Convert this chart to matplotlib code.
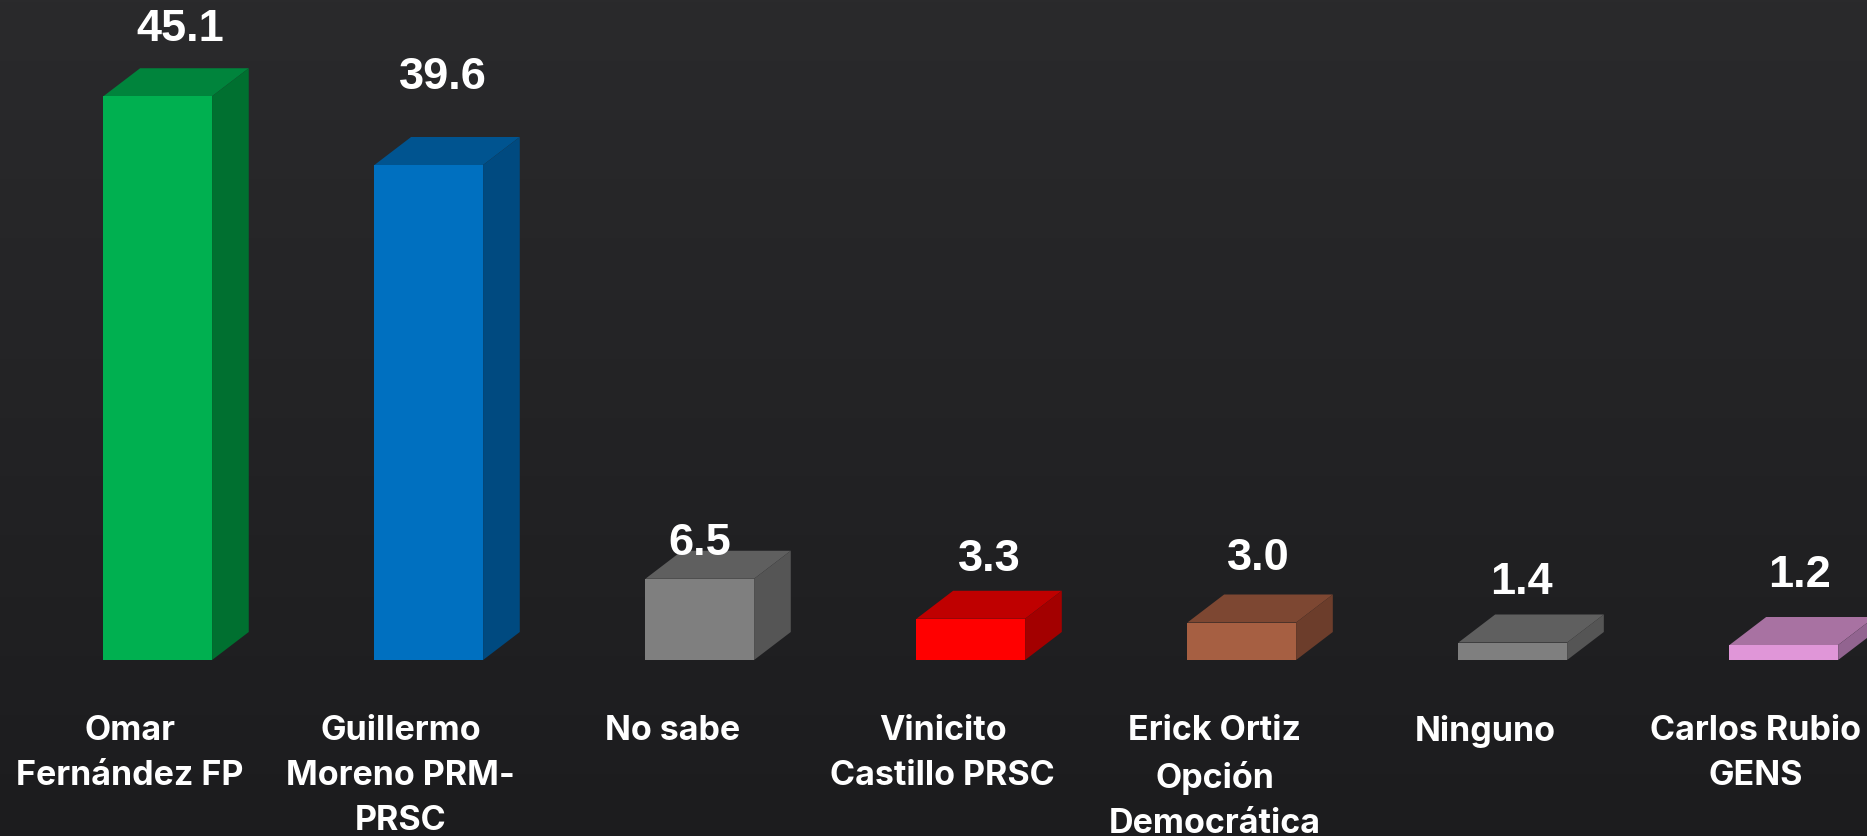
import numpy as np
import matplotlib
matplotlib.use('Agg')
import matplotlib.pyplot as plt
from matplotlib.patches import Polygon

# datos
categorias = ['Omar\nFernández FP', 'Guillermo\nMoreno PRM-\nPRSC', 'No sabe', 'Vinicito\nCastillo PRSC',
              'Erick Ortiz\nOpción\nDemocrática', 'Ninguno', 'Carlos Rubio\nGENS']
valores = [45.1, 39.6, 6.5, 3.3, 3.0, 1.4, 1.2]
etiquetas = ['45.1', '39.6', '6.5', '3.3', '3.0', '1.4', '1.2']

# colores de cada cara: frente, tapa, lado
frente = ['#00b050', '#0070c0', '#7f7f7f', '#ff0000', '#a65f42', '#7f7f7f', '#e096d8']
tapa = ['#00843c', '#005490', '#5f5f5f', '#bf0000', '#7d4732', '#5f5f5f', '#a872a2']
lado = ['#007030', '#004a80', '#555555', '#a30000', '#6c3d2b', '#555555', '#926490']

# ajustes finos en pixeles de los textos
val_dx = [23, 14, 0, 19, 17, 9, 16]
val_dy = [56, 77, 25, 49, 53, 49, 59]
cat_dx = [-28, -28, -27, -28, -27, -28, -28]

W, H = 1867, 837
ancho = 0.401
prof_x, prof_y = 0.1354, 2.24

fig = plt.figure(figsize=(W / 100, H / 100), dpi=100)
ax = fig.add_axes([0, 0, 1, 1])
ax.set_xlim(-0.582, 6.307)
ax.set_ylim(-14.08, 52.88)
ax.axis('off')

# fondo oscuro con un degradado suave
fondo = np.linspace(0, 1, 256).reshape(-1, 1)
ax.imshow(fondo, extent=[-0.582, 6.307, -14.08, 52.88], aspect='auto', zorder=0,
          cmap=matplotlib.colors.LinearSegmentedColormap.from_list('f', ['#1c1c1e', '#2a2a2c']),
          origin='lower')

x = np.arange(len(valores))
ax.bar(x, valores, width=ancho, color=frente, zorder=3)

for i, v in enumerate(valores):
    x0 = i - ancho / 2
    x1 = i + ancho / 2
    ax.add_patch(Polygon([(x0, v), (x1, v), (x1 + prof_x, v + prof_y), (x0 + prof_x, v + prof_y)],
                         facecolor=tapa[i], edgecolor='none', zorder=2))
    ax.add_patch(Polygon([(x1, 0), (x1 + prof_x, prof_y), (x1 + prof_x, v + prof_y), (x1, v)],
                         facecolor=lado[i], edgecolor='none', zorder=2))
    ax.annotate(etiquetas[i], (i, v), xytext=(val_dx[i] * 0.72, val_dy[i] * 0.72), textcoords='offset points',
                ha='center', va='baseline', color='white', fontsize=32.5, fontweight='bold',
                family='Liberation Sans', zorder=5)
    ax.annotate(categorias[i], (i, 0), xytext=(cat_dx[i] * 0.72, -54 * 0.72), textcoords='offset points',
                ha='center', va='top', color='white', fontsize=24.5, fontweight='bold',
                family='Inter', linespacing=1.52, zorder=5, annotation_clip=False)

fig.savefig('out.png', dpi=100)
